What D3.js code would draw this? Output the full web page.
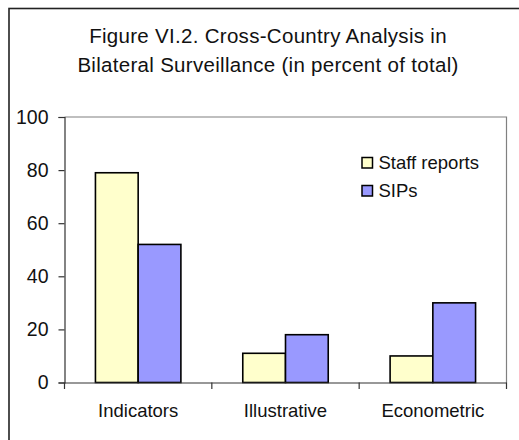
<!DOCTYPE html>
<html>
<head>
<meta charset="utf-8">
<script src="https://cdn.jsdelivr.net/npm/d3@7"></script>
<style>
  html, body { margin: 0; padding: 0; background: #fff; }
  svg { display: block; font-family: "Liberation Sans", Arial, sans-serif; }
</style>
</head>
<body>
<svg id="chart" width="519" height="440"></svg>
<script>
const titleLines = ["Figure VI.2. Cross-Country Analysis in", "Bilateral Surveillance (in percent of total)"];
const categories = ["Indicators", "Illustrative", "Econometric"];
const seriesNames = ["Staff reports", "SIPs"];
const staffReports = [79, 11, 10];
const sips = [52, 18, 30];
const yTicks = [0, 20, 40, 60, 80, 100];
const colors = ["#FFFFCC", "#9999FF"];

const svg = d3.select("#chart");
const plot = { left: 64.5, right: 506.5, top: 117, bottom: 382.5 };

// outer frame
svg.append("rect")
  .attr("x", 9).attr("y", 8.5)
  .attr("width", 530).attr("height", 450)
  .attr("fill", "none").attr("stroke", "#222").attr("stroke-width", 1.6);

// title
svg.append("g").selectAll("text").data(titleLines).join("text")
  .attr("x", 268).attr("y", (d, i) => 42.5 + i * 29)
  .attr("text-anchor", "middle")
  .attr("font-size", 20.5)
  .attr("letter-spacing", 0.3)
  .attr("fill", "#111")
  .text(d => d);

const x0 = d3.scaleBand().domain(categories)
  .range([plot.left, plot.right]).paddingInner(0.42).paddingOuter(0.21);
const x1 = d3.scaleBand().domain(seriesNames).range([0, x0.bandwidth()]);
const y = d3.scaleLinear().domain([0, 100]).range([plot.bottom, plot.top]);

// plot area border (top & right)
svg.append("path")
  .attr("d", `M${plot.left},${y(100)}H${plot.right}V${plot.bottom}`)
  .attr("fill", "none").attr("stroke", "#808080").attr("stroke-width", 1.2);

// bars
const data = categories.map((c, i) => ({ cat: c, vals: [staffReports[i], sips[i]] }));
const groups = svg.append("g").selectAll("g").data(data).join("g")
  .attr("transform", d => `translate(${x0(d.cat)},0)`);
groups.selectAll("rect").data(d => d.vals.map((v, j) => ({ name: seriesNames[j], v, j })))
  .join("rect")
  .attr("x", d => x1(d.name))
  .attr("y", d => y(d.v))
  .attr("width", x1.bandwidth())
  .attr("height", d => y(0) - y(d.v))
  .attr("fill", d => colors[d.j])
  .attr("stroke", "#000").attr("stroke-width", 1.6);

// y axis
const yAxis = svg.append("g")
  .attr("transform", `translate(${plot.left},0)`)
  .call(d3.axisLeft(y).tickValues(yTicks).tickSize(6).tickPadding(10).tickFormat(d3.format("d")));
yAxis.select(".domain").attr("stroke", "#333").attr("stroke-width", 1.2);
yAxis.selectAll(".tick line").attr("stroke", "#333").attr("stroke-width", 1.2);
yAxis.selectAll("text").attr("font-size", 19.5).attr("fill", "#111")
  .attr("font-family", "'Liberation Sans', Arial, sans-serif");

// x axis
const xAxis = svg.append("g")
  .attr("transform", `translate(0,${plot.bottom})`)
  .call(d3.axisBottom(x0).tickSize(0).tickPadding(21));
xAxis.select(".domain").attr("stroke", "#333").attr("stroke-width", 1.2);
xAxis.selectAll("text").attr("font-size", 18.5).attr("fill", "#111")
  .attr("font-family", "'Liberation Sans', Arial, sans-serif");
// category boundary ticks
const bounds = d3.range(categories.length + 1).map(i => plot.left + i * x0.step());
svg.append("g").selectAll("line").data(bounds).join("line")
  .attr("x1", d => Math.min(d, plot.right)).attr("x2", d => Math.min(d, plot.right))
  .attr("y1", plot.bottom).attr("y2", plot.bottom + 6.5)
  .attr("stroke", "#333").attr("stroke-width", 1.2);

// legend
const legend = svg.append("g").selectAll("g").data(seriesNames).join("g")
  .attr("transform", (d, i) => `translate(362,${157.5 + i * 28})`);
legend.append("rect")
  .attr("width", 10.5).attr("height", 10.5)
  .attr("fill", (d, i) => colors[i])
  .attr("stroke", "#000").attr("stroke-width", 1.5);
legend.append("text")
  .attr("x", 16.5).attr("y", 11)
  .attr("font-size", 18.5).attr("fill", "#111")
  .text(d => d);
</script>
</body>
</html>
